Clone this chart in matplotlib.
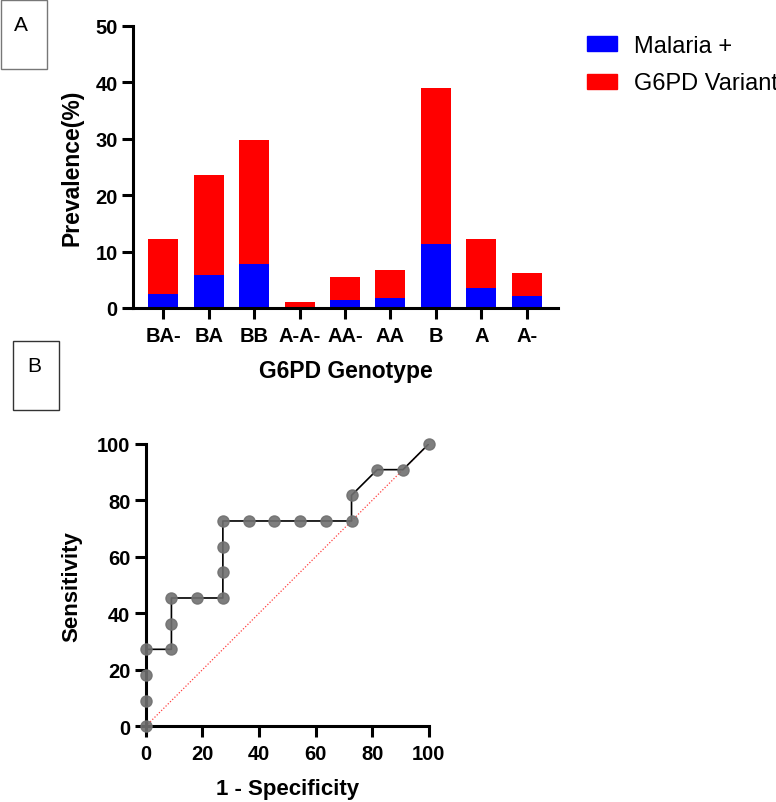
import matplotlib
matplotlib.use("Agg")
import matplotlib.pyplot as plt
from matplotlib.patches import Rectangle, Patch

plt.rcParams['font.family'] = ['Liberation Sans', 'DejaVu Sans']

# ---- Panel A data ----
genotypes = ["BA-", "BA", "BB", "A-A-", "AA-", "AA", "B", "A", "A-"]
malaria_pos = [2.4, 5.9, 7.75, 0.0, 1.5, 1.85, 11.4, 3.6, 2.2]
g6pd_variant = [9.9, 17.6, 22.05, 1.1, 4.05, 4.8, 27.6, 8.6, 4.05]
a_yticks = [0, 10, 20, 30, 40, 50]

# ---- Panel B data (ROC) ----
roc_fpr = [0, 0, 0, 0, 9.09, 9.09, 9.09, 18.18, 27.27, 27.27, 27.27, 27.27,
           36.36, 45.45, 54.55, 63.64, 72.73, 72.73, 81.82, 90.91, 100]
roc_tpr = [0, 9.09, 18.18, 27.27, 27.27, 36.36, 45.45, 45.45, 45.45, 54.55, 63.64, 72.73,
           72.73, 72.73, 72.73, 72.73, 72.73, 81.82, 90.91, 90.91, 100]
ref_line = [0, 100]
b_ticks = [0, 20, 40, 60, 80, 100]

W, H = 776, 803
fig = plt.figure(figsize=(W / 100, H / 100), dpi=100)


def frac_rect(l, t, r, b):
    return [l / W, 1 - b / H, (r - l) / W, (b - t) / H]


def style_axes(ax):
    for s in ['top', 'right']:
        ax.spines[s].set_visible(False)
    for s in ['left', 'bottom']:
        ax.spines[s].set_linewidth(2.2)
    ax.tick_params(width=2.2, length=8, labelsize=14.5)
    for lab in ax.get_xticklabels() + ax.get_yticklabels():
        lab.set_fontweight('bold')


# ---- Panel A ----
axA = fig.add_axes(frac_rect(133, 26.7, 558, 309))
x = list(range(len(genotypes)))
axA.bar(x, malaria_pos, width=0.66, color='#0000FF', label='Malaria +')
axA.bar(x, g6pd_variant, width=0.66, bottom=malaria_pos, color='#FF0000', label='G6PD Variant')
axA.set_xlim(-0.67, 8.69)
axA.set_ylim(0, 50)
axA.set_yticks(a_yticks)
axA.set_xticks(x)
axA.set_xticklabels(genotypes)
style_axes(axA)
axA.tick_params(axis='x', pad=5)
axA.tick_params(axis='y', pad=3)
axA.set_ylabel('Prevalence(%)', fontsize=16.5, fontweight='bold', va='center')
axA.yaxis.set_label_coords(-0.1435, 0.5)
axA.set_xlabel('G6PD Genotype', fontsize=16.5, fontweight='bold', va='center')
axA.xaxis.set_label_coords(0.5, -0.223)

fs_leg = 17
fig.legend(handles=[Patch(color='#0000FF', label='Malaria +'),
                    Patch(color='#FF0000', label='G6PD Variant')],
           loc='upper left', bbox_to_anchor=(587 / W, 1 - 36 / H),
           frameon=False, fontsize=fs_leg, handlelength=1.27, handleheight=0.6,
           handletextpad=0.72, labelspacing=0.65, borderpad=0, borderaxespad=0)

# ---- Panel B ----
axB = fig.add_axes(frac_rect(145.7, 445, 428.7, 727.3))
axB.plot(ref_line, ref_line, color='#FF4040', linestyle=(0, (1, 1.5)), linewidth=0.9, zorder=2)
axB.plot(roc_fpr, roc_tpr, color='black', linewidth=1.2, zorder=3)
axB.plot(roc_fpr, roc_tpr, linestyle='none', marker='o', markersize=8,
         color='#707070', alpha=0.9, zorder=4, clip_on=False)
axB.set_xlim(0, 100)
axB.set_ylim(0, 100)
axB.set_xticks(b_ticks)
axB.set_yticks(b_ticks)
style_axes(axB)
axB.tick_params(axis='x', pad=5)
axB.tick_params(axis='y', pad=3)
axB.set_ylabel('Sensitivity', fontsize=16, fontweight='bold', va='center')
axB.yaxis.set_label_coords(-0.26, 0.5)
axB.set_xlabel('1 - Specificity', fontsize=16, fontweight='bold', va='center')
axB.xaxis.set_label_coords(0.5, -0.222)

# ---- Panel letter boxes ----
def box(l, t, r, b, ec):
    fig.patches.append(Rectangle((l / W, 1 - b / H), (r - l) / W, (b - t) / H,
                                 transform=fig.transFigure, fill=False,
                                 edgecolor=ec, linewidth=1.0))

box(1, 1, 47, 70, '#777777')
box(13, 342, 59, 411, '#333333')
fig.text(21 / W, 1 - 25.5 / H, 'A', fontsize=15, ha='center', va='center')
fig.text(34 / W, 1 - 366 / H, 'B', fontsize=15, ha='center', va='center')

fig.savefig('out.png', dpi=100)
